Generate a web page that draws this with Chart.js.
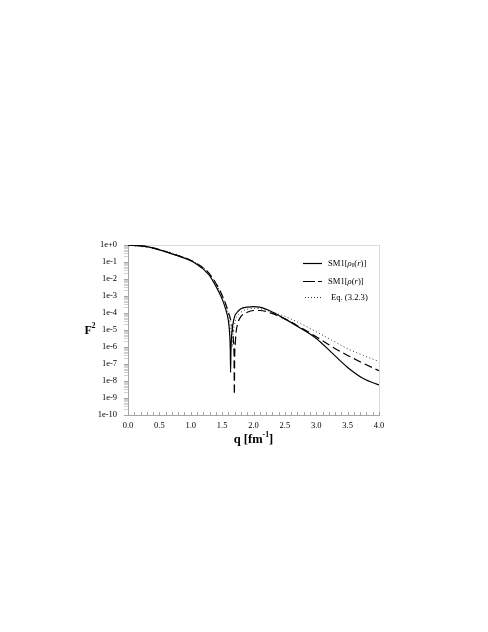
<!DOCTYPE html>
<html>
<head>
<meta charset="utf-8">
<script src="https://cdn.jsdelivr.net/npm/chart.js@4.4.1/dist/chart.umd.min.js"></script>
<style>
  html, body { margin: 0; padding: 0; background: #fff; }
  canvas { display: block; }
</style>
</head>
<body>
<canvas id="formFactor" width="488" height="632"></canvas>
<script>
/* ---- chart data ---- */

// SM1[rho_0(r)] - solid
const qSolid = [0.0, 0.25, 0.5, 0.75, 1.0, 1.1, 1.15, 1.2, 1.25, 1.3, 1.35, 1.4, 1.45, 1.5, 1.55, 1.6, 1.62, 1.63, 1.635,
  1.64, 1.65, 1.67, 1.7, 1.73, 1.8, 1.9, 2.0, 2.1, 2.25, 2.5, 2.75, 3.0, 3.25, 3.5, 3.75, 4.0];
const f2Solid = [1, 0.85, 0.52, 0.26, 0.12, 0.071, 0.052, 0.038, 0.025, 0.0158, 7.9e-3, 3.8e-3, 1.66e-3, 6.6e-4, 2.0e-4, 3.5e-5, 6.0e-6, 7.0e-7, 3.2e-8,
  5.0e-7, 4.0e-6, 2.0e-5, 6.3e-5, 1.0e-4, 1.8e-4, 2.2e-4, 2.4e-4, 2.2e-4, 1.4e-4, 4.5e-5, 1.26e-5, 3.2e-6, 4.5e-7, 6.3e-8, 1.4e-8, 5.8e-9];

// SM1[rho(r)] - dashed
const qDashed = [0.0, 0.25, 0.5, 0.75, 1.0, 1.1, 1.2, 1.25, 1.3, 1.35, 1.4, 1.45, 1.5, 1.55, 1.6, 1.65, 1.67, 1.68, 1.69, 1.695,
  1.7, 1.71, 1.72, 1.75, 1.8, 1.9, 2.0, 2.1, 2.25, 2.5, 2.75, 3.0, 3.25, 3.5, 3.75, 4.0];
const f2Dashed = [1, 0.85, 0.54, 0.27, 0.126, 0.079, 0.045, 0.032, 0.02, 0.0112, 5.6e-3, 2.8e-3, 1.1e-3, 4.0e-4, 1.1e-4, 2.5e-5, 8.9e-6, 2.5e-6, 3.2e-7, 1.6e-9,
  2.5e-7, 1.6e-6, 6.3e-6, 2.5e-5, 6.3e-5, 1.1e-4, 1.4e-4, 1.4e-4, 1.07e-4, 4.5e-5, 1.4e-5, 4.0e-6, 1.05e-6, 3.2e-7, 1.1e-7, 4.0e-8];

// Eq. (3.2.3) - dotted
const qDotted = [0.0, 0.5, 1.0, 1.25, 1.4, 1.5, 1.6, 1.63, 1.65, 1.66, 1.67, 1.69, 1.72, 1.8, 1.9, 2.0, 2.1,
  2.25, 2.5, 2.75, 3.0, 3.25, 3.5, 3.75, 4.0];
const f2Dotted = [1, 0.54, 0.126, 0.032, 5.0e-3, 1.0e-3, 7.9e-5, 2.0e-5, 4.0e-6, 1.0e-6, 4.0e-6, 1.6e-5, 4.5e-5, 1.1e-4, 1.66e-4, 1.9e-4, 1.8e-4,
  1.3e-4, 6.3e-5, 2.4e-5, 7.9e-6, 2.5e-6, 7.9e-7, 3.2e-7, 1.4e-7];

// axis ticks
const yDecades = [1, 1e-1, 1e-2, 1e-3, 1e-4, 1e-5, 1e-6, 1e-7, 1e-8, 1e-9, 1e-10];
const xMin = 0, xMax = 4, xStep = 0.1;

/* ---- helpers ---- */

const SERIF = '"Liberation Serif", "Times New Roman", serif';
const AXIS_GRAY = '#a6a6a6';

function toPoints(xs, ys) {
  return xs.map((x, i) => ({ x: x, y: ys[i] }));
}

// draw text made of pieces (italic / sub / sup), returns width
function drawRich(ctx, parts, x, y, size, bold, measureOnly) {
  let cx = x;
  parts.forEach(p => {
    const small = p.sub || p.sup;
    const sz = small ? size * 0.62 : size;
    ctx.font = (p.i ? 'italic ' : '') + (bold ? 'bold ' : '') + sz + 'px ' + SERIF;
    const dy = p.sub ? size * 0.3 : (p.sup ? -size * 0.38 : 0);
    if (!measureOnly) ctx.fillText(p.t, cx, y + dy);
    cx += ctx.measureText(p.t).width;
  });
  return cx - x;
}

const legendParts = [
  [{ t: 'SM1[' }, { t: 'ρ', i: true }, { t: '0', sub: true }, { t: '(' }, { t: 'r', i: true }, { t: ')]' }],
  [{ t: 'SM1[' }, { t: 'ρ', i: true }, { t: '(' }, { t: 'r', i: true }, { t: ')]' }],
  [{ t: 'Eq. (3.2.3)' }]
];

/* ---- plugins ---- */

const frameAndTitles = {
  id: 'frameAndTitles',
  beforeDraw(chart) {
    const ctx = chart.ctx;
    const a = chart.chartArea;
    ctx.save();
    ctx.fillStyle = '#ffffff';
    ctx.fillRect(0, 0, chart.width, chart.height);
    ctx.strokeStyle = '#d9d9d9';
    ctx.lineWidth = 1;
    ctx.strokeRect(a.left + 0.5, a.top + 0.5, a.right - a.left, a.bottom - a.top);
    ctx.restore();
  },
  afterDraw(chart) {
    const ctx = chart.ctx;
    const a = chart.chartArea;
    const xs = chart.scales.x;
    ctx.save();

    // x ticks point up into the plot
    ctx.strokeStyle = AXIS_GRAY;
    ctx.lineWidth = 1;
    ctx.beginPath();
    xs.ticks.forEach(t => {
      const px = Math.round(xs.getPixelForValue(t.value)) + 0.5;
      ctx.moveTo(px, a.bottom);
      ctx.lineTo(px, a.bottom - 3);
    });
    ctx.stroke();

    ctx.fillStyle = '#000';
    ctx.textBaseline = 'middle';

    // y title F^2
    const yParts = [{ t: 'F' }, { t: '2', sup: true }];
    const yw = drawRich(ctx, yParts, 0, 0, 12, true, true);
    drawRich(ctx, yParts, 90 - yw / 2, (a.top + a.bottom) / 2 + 1, 12, true);

    // x title q [fm^-1]
    const xParts = [{ t: 'q [fm' }, { t: '-1', sup: true }, { t: ']' }];
    const xw = drawRich(ctx, xParts, 0, 0, 12.5, true, true);
    drawRich(ctx, xParts, (a.left + a.right) / 2 - xw / 2, a.bottom + 25, 12.5, true);

    // legend inside the plot, top right
    const rows = [263, 281, 297];
    const textX = [328, 328, 331];
    const legendDash = [[], [12, 3], [1, 2]];
    chart.data.datasets.forEach((ds, i) => {
      const y = rows[i] + 0.5;
      ctx.beginPath();
      ctx.strokeStyle = ds.borderColor;
      ctx.lineWidth = ds.borderWidth;
      ctx.setLineDash(legendDash[i]);
      ctx.moveTo(i === 2 ? 305 : 303, y);
      ctx.lineTo(322, y);
      ctx.stroke();
      ctx.setLineDash([]);
      ctx.fillStyle = '#000';
      drawRich(ctx, legendParts[i], textX[i], y, 8.6, false);
    });
    ctx.restore();
  }
};

/* ---- chart ---- */

const isDecade = v => Math.abs(Math.log10(v) - Math.round(Math.log10(v))) < 1e-6;

new Chart(document.getElementById('formFactor').getContext('2d'), {
  type: 'line',
  data: {
    datasets: [
      {
        label: 'SM1[ρ0(r)]',
        data: toPoints(qSolid, f2Solid),
        borderColor: '#000000',
        borderWidth: 1.2,
        pointRadius: 0,
        cubicInterpolationMode: 'monotone',
        fill: false
      },
      {
        label: 'SM1[ρ(r)]',
        data: toPoints(qDashed, f2Dashed),
        borderColor: '#000000',
        borderWidth: 1.2,
        borderDash: [8, 4],
        pointRadius: 0,
        cubicInterpolationMode: 'monotone',
        fill: false
      },
      {
        label: 'Eq. (3.2.3)',
        data: toPoints(qDotted, f2Dotted),
        borderColor: '#333333',
        borderWidth: 1,
        borderDash: [1, 2.5],
        pointRadius: 0,
        cubicInterpolationMode: 'monotone',
        fill: false
      }
    ]
  },
  options: {
    responsive: false,
    animation: false,
    devicePixelRatio: 1,
    layout: { padding: { left: 0, top: 245, right: 109, bottom: 187 } },
    plugins: {
      legend: { display: false },
      tooltip: { enabled: false }
    },
    scales: {
      x: {
        type: 'linear',
        min: xMin,
        max: xMax,
        afterFit(scale) { scale.height = 30; },
        border: { color: AXIS_GRAY, width: 1 },
        grid: {
          drawOnChartArea: false,
          drawTicks: false
        },
        ticks: {
          stepSize: xStep,
          maxTicksLimit: 100,
          autoSkip: false,
          maxRotation: 0,
          padding: 6,
          color: '#000',
          font: { family: SERIF, size: 8.5 },
          callback: (value) => (Math.round(value * 10) % 5 === 0 ? Number(value).toFixed(1) : '')
        }
      },
      y: {
        type: 'logarithmic',
        min: 1e-10,
        max: 1,
        afterFit(scale) { scale.width = 128; },
        afterBuildTicks(scale) {
          const ticks = [];
          yDecades.forEach(d => {
            ticks.push({ value: d, major: true });
            if (d < 1) {
              for (let k = 2; k <= 9; k++) ticks.push({ value: d * k, major: false });
            }
          });
          scale.ticks = ticks.sort((p, q) => p.value - q.value);
        },
        border: { color: AXIS_GRAY, width: 1 },
        grid: {
          drawOnChartArea: false,
          drawTicks: true,
          tickLength: 4,
          tickColor: (c) => (c.tick && isDecade(c.tick.value) ? AXIS_GRAY : '#d0d0d0')
        },
        ticks: {
          autoSkip: false,
          padding: 7,
          color: '#000',
          font: { family: SERIF, size: 8.5 },
          callback: (value) => {
            if (!isDecade(value)) return '';
            const e = Math.round(Math.log10(value));
            return '1e' + (e >= 0 ? '+' : '') + e;
          }
        }
      }
    }
  },
  plugins: [frameAndTitles]
});
</script>
</body>
</html>
